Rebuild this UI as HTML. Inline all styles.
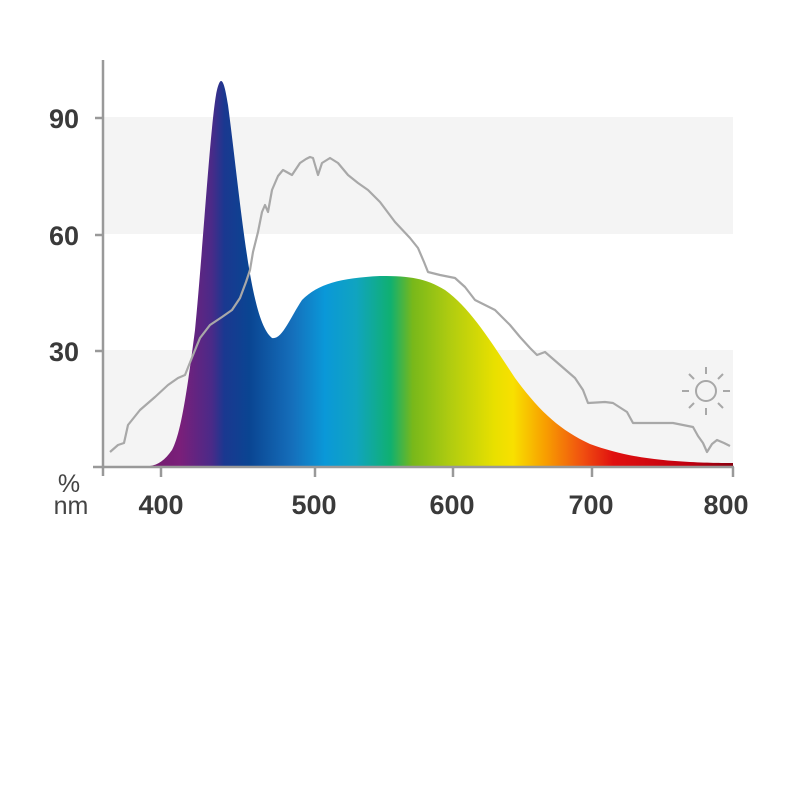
<!DOCTYPE html>
<html><head><style>body{margin:0;background:#fff}svg{display:block}</style></head><body>
<svg width="800" height="800" viewBox="0 0 800 800" xmlns="http://www.w3.org/2000/svg">
<defs>
<linearGradient id="g" gradientUnits="userSpaceOnUse" x1="105" y1="0" x2="733" y2="0">
<stop offset="0" stop-color="#6a1a5a"/>
<stop offset="0.12" stop-color="#7a1f7a"/>
<stop offset="0.17" stop-color="#4a2a88"/>
<stop offset="0.19" stop-color="#1a3890"/>
<stop offset="0.23" stop-color="#0a4592"/>
<stop offset="0.30" stop-color="#1570bc"/>
<stop offset="0.35" stop-color="#0a98d8"/>
<stop offset="0.40" stop-color="#10a4c0"/>
<stop offset="0.455" stop-color="#10b070"/>
<stop offset="0.49" stop-color="#78b81a"/>
<stop offset="0.55" stop-color="#b0cc10"/>
<stop offset="0.62" stop-color="#e8e000"/>
<stop offset="0.65" stop-color="#f8e000"/>
<stop offset="0.70" stop-color="#f8a000"/>
<stop offset="0.76" stop-color="#f05010"/>
<stop offset="0.81" stop-color="#e01010"/>
<stop offset="0.93" stop-color="#c00010"/>
<stop offset="1" stop-color="#8a0010"/>
</linearGradient>
</defs>
<rect x="104" y="117" width="629" height="117" fill="#f4f4f4"/>
<rect x="104" y="350" width="629" height="117" fill="#f4f4f4"/>
<path d="M105,467 L150,466 C158,465 165,460 172,450 C180,435 186,400 195,330 C202,260 210,130 216,95 C218,84 220,81 221,81 C223,81 225,86 228,105 C234,150 240,210 248,262 C255,305 262,330 272,338 C282,340 290,318 302,300 C318,284 340,278 380,276 C410,276 425,278 445,290 C470,308 490,340 515,378 C540,412 560,430 590,444 C620,455 650,460 690,462 C710,463 725,463 733,463 L733,468 L105,468 Z" fill="url(#g)"/>
<polyline fill="none" stroke="#a8a8a8" stroke-width="2.2" stroke-linejoin="round" points="110,452 118,445 124,443 128,425 140,410 155,397 168,385 178,378 185,375 193,355 200,338 210,325 222,317 232,310 240,298 246,282 250,270 253,252 258,232 262,212 265,205 268,212 272,190 278,176 283,170 292,175 300,163 306,159 310,157 313,158 318,175 322,163 330,158 338,163 348,175 358,183 368,190 380,202 395,222 410,238 418,248 424,262 428,272 440,275 455,278 465,287 475,300 495,310 510,325 520,337 530,348 537,355 545,352 560,365 575,378 583,390 588,403 605,402 613,403 627,412 633,423 647,423 673,423 693,427 698,436 703,443 707,452 712,444 717,440 724,443 730,446"/>
<g stroke="#a8a8a8" stroke-width="2" fill="none">
<circle cx="706" cy="391" r="10"/>
<line x1="706" y1="367" x2="706" y2="374"/><line x1="706" y1="408" x2="706" y2="415"/>
<line x1="682" y1="391" x2="689" y2="391"/><line x1="723" y1="391" x2="730" y2="391"/>
<line x1="689" y1="374" x2="694" y2="379"/><line x1="718" y1="403" x2="723" y2="408"/>
<line x1="689" y1="408" x2="694" y2="403"/><line x1="718" y1="379" x2="723" y2="374"/>
</g>
<g stroke="#999" stroke-width="2.5">
<line x1="103" y1="60" x2="103" y2="476"/>
<line x1="93" y1="467" x2="734" y2="467"/>
<line x1="95" y1="118" x2="103" y2="118"/><line x1="95" y1="235" x2="103" y2="235"/><line x1="95" y1="351" x2="103" y2="351"/>
<line x1="161" y1="467" x2="161" y2="477"/><line x1="315" y1="467" x2="315" y2="477"/><line x1="453" y1="467" x2="453" y2="477"/><line x1="592" y1="467" x2="592" y2="477"/><line x1="733" y1="467" x2="733" y2="477"/>
</g>
<g font-family="Liberation Sans Narrow, Liberation Sans, sans-serif" font-weight="bold" font-size="27" fill="#3a3a3a">
<text x="79" y="128" text-anchor="end">90</text>
<text x="79" y="245" text-anchor="end">60</text>
<text x="79" y="361" text-anchor="end">30</text>
<text x="161" y="514" text-anchor="middle">400</text>
<text x="314" y="514" text-anchor="middle">500</text>
<text x="452" y="514" text-anchor="middle">600</text>
<text x="591" y="514" text-anchor="middle">700</text>
<text x="726" y="514" text-anchor="middle">800</text>
</g>
<g font-family="Liberation Sans Narrow, Liberation Sans, sans-serif" font-size="25" fill="#444">
<text x="69" y="492" text-anchor="middle">%</text>
<text x="71" y="514" text-anchor="middle">nm</text>
</g>
</svg>
</body></html>
